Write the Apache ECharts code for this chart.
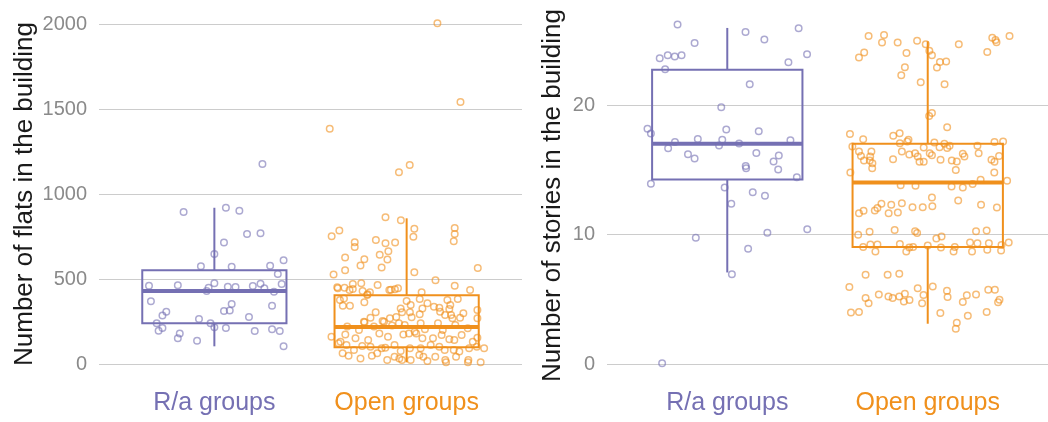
<!DOCTYPE html>
<html lang="en">
<head>
<meta charset="UTF-8">
<title>Flats and stories by group</title>
<style>
  html, body { margin: 0; padding: 0; background: #fff; }
  #main { width: 1048px; height: 422px; }
</style>
</head>
<body>
<div id="main"></div>
<script src="https://cdn.jsdelivr.net/npm/echarts@6/dist/echarts.min.js"></script>
<script>
var groups = ['R/a groups', 'Open groups'];
var groupColors = ['#7570b3', '#f0901c'];

// box stats: [lower whisker, q1, median, q3, upper whisker]
var flatsBoxRa = [104, 239, 429, 551, 919];
var flatsBoxOpen = [10, 98, 218, 404, 857];
var storiesBoxRa = [7.07, 14.25, 17.0, 22.73, 25.95];
var storiesBoxOpen = [3.11, 9.03, 14.02, 17.0, 24.92];

var flatsTicks = [0, 500, 1000, 1500, 2000];
var storiesTicks = [0, 10, 20];

// jittered points: [horizontal jitter, value]
var raFlats = [
  [0.25,1176],[-0.16,894],[0.06,919],[0.13,902],[0.17,765],[0.24,769],[0.05,714],[0.0,647],
  [0.36,610],[-0.07,575],[0.09,572],[0.29,578],[0.33,529],[-0.34,461],[-0.19,463],[0.0,475],
  [-0.03,449],[-0.04,429],[0.07,455],[0.11,453],[0.20,459],[0.24,472],[0.26,445],[0.35,471],
  [0.31,425],[-0.33,369],[0.09,353],[0.08,314],[0.05,312],[0.30,343],[-0.25,308],[-0.27,286],
  [0.18,276],[-0.08,265],[-0.02,239],[-0.30,239],[-0.27,212],[-0.29,196],[0.0,216],[0.06,212],
  [0.21,194],[0.30,204],[0.34,194],[-0.18,180],[-0.19,151],[-0.09,137],[0.36,104]
];

var openFlats = [
  [0.16,2004],[0.28,1541],[-0.40,1384],[0.016,1171],[-0.04,1128],
  [-0.11,863],[-0.03,845],[-0.39,751],[-0.35,786],[0.04,796],[0.035,749],[0.25,800],[0.25,765],
  [0.245,722],[-0.27,716],[-0.27,688],[-0.16,729],[-0.11,710],[-0.06,714],[-0.095,663],[-0.14,643],
  [-0.32,627],[-0.22,616],[-0.10,614],[-0.24,580],[-0.13,567],[-0.32,551],[-0.38,527],[0.04,539],
  [0.37,565],[0.15,492],[0.25,461],
  [-0.28,471],[-0.236,475],[-0.151,465],[-0.361,451],[-0.09,435],[-0.061,439],[-0.297,435],[0.33,435],
  [-0.358,445],[-0.323,449],[-0.280,441],[-0.229,429],[-0.191,422],[-0.082,437],[-0.045,445],[0.078,422],
  [-0.203,410],[-0.205,406],
  [-0.347,376],[-0.332,343],[-0.295,343],[-0.326,386],[-0.220,363],[0.0,371],[0.068,382],[0.082,327],
  [0.212,376],[0.227,347],[0.266,382],[0.368,318],[0.222,324],[-0.031,327],[0.021,347],[0.108,357],
  [0.142,337],[0.170,331],
  [-0.161,304],[-0.087,269],[-0.024,304],[0.017,304],[0.026,275],[0.068,292],[0.174,308],[0.200,288],
  [0.231,288],[0.295,298],[0.278,272],[0.368,269],[-0.222,249],[-0.125,253],[-0.054,276],[-0.188,272],
  [-0.219,245],[-0.170,220],[-0.118,249],[-0.076,226],[-0.010,229],[0.042,190],[0.095,204],[0.163,239],
  [0.188,200],[0.253,229],[0.318,210],[-0.040,239],[0.073,239],[-0.248,200],[-0.309,220],[0.238,269],
  [-0.391,161],[-0.319,174],[-0.266,151],[-0.200,141],[-0.142,180],[-0.097,161],[-0.017,174],[0.050,180],
  [0.082,151],[0.137,151],[0.182,171],[0.222,145],[0.248,141],[0.286,171],[0.344,131],[0.368,155],
  [0.012,180],[-0.344,131],
  [-0.354,122],[-0.313,112],[-0.231,106],[-0.188,102],[-0.130,92],[-0.111,96],[-0.063,112],[0.017,92],
  [0.073,92],[0.125,112],[0.170,102],[0.198,82],[0.245,82],[0.274,73],[0.325,92],[0.365,102],
  [-0.274,82],[-0.031,76],[0.403,92],
  [-0.333,63],[-0.302,49],[-0.181,49],[-0.153,63],[-0.063,43],[-0.038,33],[-0.024,24],[0.066,53],
  [0.087,43],[0.149,43],[0.201,24],[0.205,10],[0.257,43],[0.321,24],[0.319,10],[0.385,10],
  [0.021,24],[0.108,18],[-0.240,33],[-0.101,24]
];

var raStories = [
  [-0.248,26.21],[-0.163,24.79],[0.091,25.64],[0.185,25.05],[0.356,25.92],[0.398,23.92],[0.305,23.30],
  [-0.337,23.61],[-0.297,23.84],[-0.262,23.74],[-0.228,23.84],[-0.310,22.76],[0.112,21.60],[-0.030,19.83],
  [-0.398,18.16],[-0.381,17.80],[-0.005,18.11],[0.157,17.98],[-0.147,17.38],[-0.261,17.15],[-0.025,17.31],
  [0.059,17.03],[-0.041,16.87],[0.315,17.28],[-0.295,16.66],[-0.196,16.20],[-0.163,15.87],[0.145,16.30],
  [0.257,16.10],[0.231,15.64],[0.092,15.28],[0.094,15.12],[0.254,15.02],[0.347,14.43],[-0.381,13.91],
  [-0.013,13.63],[0.127,13.27],[0.188,12.99],[0.020,12.37],[0.399,10.41],[-0.157,9.75],[0.200,10.13],
  [0.104,8.90],[0.023,6.94],[-0.325,0.05]
];

var openStories = [
  [-0.295,25.33],[-0.218,25.41],[-0.228,24.82],[-0.150,24.82],[-0.053,24.97],[-0.010,24.69],[0.155,24.69],
  [0.322,25.20],[0.338,25.02],[0.343,24.84],[0.408,25.33],[0.297,24.10],[-0.317,24.05],[-0.343,23.66],
  [-0.106,24.02],[0.008,24.18],[0.021,23.84],[0.061,23.33],[0.092,23.35],[0.046,22.89],[-0.114,22.91],
  [-0.132,22.30],[-0.035,21.76],[0.084,21.60],[0.007,19.16],[0.021,19.39],[0.097,18.28],
  [-0.388,17.77],[-0.322,17.36],[-0.172,17.62],[-0.140,17.82],[-0.139,17.05],[-0.102,17.18],[-0.096,17.31],
  [-0.020,16.72],[0.033,17.10],[0.083,17.00],[0.109,16.85],[0.248,16.85],[0.333,17.15],[0.376,17.18],
  [-0.376,16.79],[-0.343,16.41],[-0.333,16.07],[-0.318,15.71],[-0.281,16.41],[-0.287,16.02],[-0.289,15.71],
  [-0.276,15.51],[-0.277,15.12],[-0.173,15.82],[-0.129,16.41],[-0.092,16.18],[-0.063,16.28],[-0.050,16.02],
  [-0.020,15.61],[-0.041,15.61],[0.010,16.28],[0.021,16.12],[0.064,15.77],[0.059,16.74],[0.097,16.67],
  [0.120,15.71],[0.145,15.64],[0.140,14.99],[0.175,16.23],[0.183,16.02],[0.254,16.28],[0.318,15.77],
  [0.333,15.61],[0.356,16.07],[0.332,14.79],[-0.386,14.79],[0.396,14.15],[0.264,14.22],[-0.135,13.81],
  [-0.061,13.76],[0.119,13.71],[0.175,13.63],[0.224,13.89],[0.021,12.86],[0.152,12.63],[-0.231,12.37],
  [-0.251,12.04],[-0.264,11.86],[-0.182,12.29],[-0.129,12.42],[-0.343,11.65],[-0.320,11.83],[-0.195,11.65],
  [-0.149,11.70],[-0.076,12.11],[-0.025,12.11],[0.023,12.19],[0.266,12.29],[0.345,12.09],
  [-0.347,9.98],[-0.290,10.21],[-0.165,10.34],[-0.063,10.26],[-0.053,10.11],[0.043,9.70],[0.069,9.85],
  [0.241,10.26],[0.294,10.31],[-0.322,9.03],[-0.286,9.23],[-0.251,9.23],[-0.139,9.26],[-0.092,9.00],
  [-0.073,9.03],[0.0,9.15],[0.066,9.00],[0.135,9.03],[0.211,9.39],[0.248,9.33],[0.305,9.33],[0.368,9.18],
  [0.404,9.39],[-0.261,8.69],[-0.107,8.69],[0.129,8.69],[0.221,8.69],[0.297,8.82],[0.366,8.77],
  [-0.310,6.89],[-0.200,6.89],[-0.142,6.97],[-0.391,5.94],[-0.050,5.84],[0.025,5.99],[0.096,5.66],
  [0.099,5.17],[0.302,5.73],[0.335,5.73],[-0.310,5.09],[-0.295,4.70],[-0.244,5.37],[-0.196,5.22],
  [-0.175,5.09],[-0.142,5.22],[-0.114,5.42],[-0.119,4.83],[-0.091,4.94],[-0.021,5.32],[-0.028,4.70],
  [0.175,4.78],[0.195,5.30],[0.241,5.37],[0.358,4.96],[0.351,4.76],[-0.383,3.98],[-0.343,4.01],
  [0.063,3.93],[0.200,3.73],[0.294,4.01],[0.145,3.19],[0.140,2.72]
];

var fontFamily = "'Liberation Sans', Arial, sans-serif";

function renderBox(params, api) {
    var x = api.value(0);
    var low = api.coord([x, api.value(1)]);
    var q1 = api.coord([x, api.value(2)]);
    var med = api.coord([x, api.value(3)]);
    var q3 = api.coord([x, api.value(4)]);
    var high = api.coord([x, api.value(5)]);
    var half = api.size([0.75, 0])[0] / 2;
    var color = groupColors[x];
    return {
        type: 'group',
        children: [
            { type: 'line', shape: { x1: low[0], y1: low[1], x2: q1[0], y2: q1[1] }, style: { stroke: color, lineWidth: 2 } },
            { type: 'line', shape: { x1: q3[0], y1: q3[1], x2: high[0], y2: high[1] }, style: { stroke: color, lineWidth: 2 } },
            { type: 'rect', shape: { x: q3[0] - half, y: q3[1], width: half * 2, height: q1[1] - q3[1] },
              style: { stroke: color, lineWidth: 2, fill: 'none' } },
            { type: 'line', shape: { x1: med[0] - half, y1: med[1], x2: med[0] + half, y2: med[1] },
              style: { stroke: color, lineWidth: 4 } }
        ]
    };
}

function jittered(points, idx) {
    return points.map(function (p) { return [idx + p[0], p[1]]; });
}

function xAxisFor(gridIndex) {
    return {
        type: 'value', gridIndex: gridIndex, min: -0.6, max: 1.6,
        axisLine: { show: false }, axisTick: { show: false }, splitLine: { show: false },
        axisLabel: {
            customValues: [0, 1],
            margin: 27,
            formatter: function (v) { return '{g' + v + '|' + groups[v] + '}'; },
            rich: {
                g0: { color: groupColors[0], fontSize: 25, fontFamily: fontFamily },
                g1: { color: groupColors[1], fontSize: 25, fontFamily: fontFamily }
            }
        }
    };
}

function yAxisFor(gridIndex, name, ticks, nameGap, namePadding) {
    return {
        type: 'value', gridIndex: gridIndex, min: 0,
        max: ticks[ticks.length - 1], interval: ticks[1] - ticks[0],
        name: name, nameLocation: 'middle', nameGap: nameGap,
        nameTextStyle: { color: '#1a1a1a', fontSize: 26, fontFamily: fontFamily, padding: namePadding },
        axisLine: { show: false }, axisTick: { show: false },
        axisLabel: {
            color: '#8a8a8a', fontSize: 20, fontFamily: fontFamily, margin: 12,
            formatter: function (v) { return String(v); }
        },
        splitLine: { lineStyle: { color: '#cccccc', width: 1 } }
    };
}

function scatterSeries(axisIndex, points, idx) {
    return {
        type: 'scatter', xAxisIndex: axisIndex, yAxisIndex: axisIndex,
        data: jittered(points, idx), symbol: 'circle', symbolSize: 6.5, clip: false, z: 3,
        itemStyle: { color: 'rgba(255,255,255,0)', borderColor: groupColors[idx], borderWidth: 1.5, opacity: 0.6 }
    };
}

var option = {
    animation: false,
    backgroundColor: '#fff',
    grid: [
        { left: 99, top: 24, width: 423, bottom: 58 },
        { left: 607, top: 105, width: 444, bottom: 58 }
    ],
    xAxis: [xAxisFor(0), xAxisFor(1)],
    yAxis: [
        yAxisFor(0, 'Number of flats in the building', flatsTicks, 61, [0, 0, 0, 0]),
        yAxisFor(1, 'Number of stories in the building', storiesTicks, 41, [0, 0, 0, 78])
    ],
    series: [
        {
            type: 'custom', xAxisIndex: 0, yAxisIndex: 0, renderItem: renderBox, clip: false, z: 2,
            encode: { x: 0, y: [1, 2, 3, 4, 5] },
            data: [[0].concat(flatsBoxRa), [1].concat(flatsBoxOpen)]
        },
        {
            type: 'custom', xAxisIndex: 1, yAxisIndex: 1, renderItem: renderBox, clip: false, z: 2,
            encode: { x: 0, y: [1, 2, 3, 4, 5] },
            data: [[0].concat(storiesBoxRa), [1].concat(storiesBoxOpen)]
        },
        scatterSeries(0, raFlats, 0),
        scatterSeries(0, openFlats, 1),
        scatterSeries(1, raStories, 0),
        scatterSeries(1, openStories, 1)
    ]
};

var myChart = echarts.init(document.getElementById('main'));
myChart.setOption(option);
</script>
</body>
</html>
